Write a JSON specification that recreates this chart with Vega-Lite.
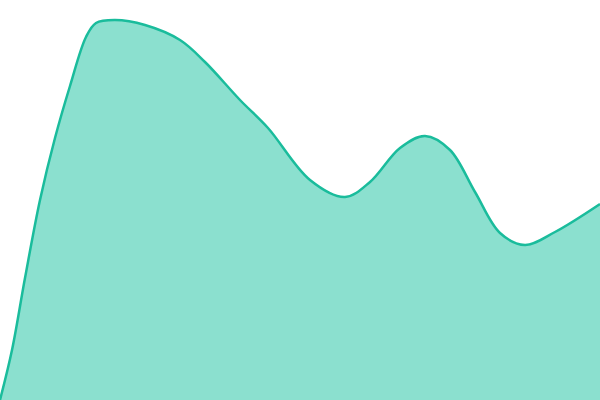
{
  "$schema": "https://vega.github.io/schema/vega-lite/v6.json",
  "width": 600,
  "height": 400,
  "padding": 0,
  "autosize": {"type": "none"},
  "config": {"view": {"stroke": null}},
  "data": {
    "values": [
      {"x": 0, "y": 0},
      {"x": 12, "y": 50},
      {"x": 25, "y": 122},
      {"x": 40, "y": 200},
      {"x": 55, "y": 262},
      {"x": 70, "y": 314},
      {"x": 86, "y": 363},
      {"x": 96, "y": 377},
      {"x": 115, "y": 380},
      {"x": 145, "y": 375},
      {"x": 180, "y": 360},
      {"x": 205, "y": 338},
      {"x": 240, "y": 300},
      {"x": 268, "y": 272},
      {"x": 310, "y": 220},
      {"x": 345, "y": 203},
      {"x": 370, "y": 218},
      {"x": 400, "y": 252},
      {"x": 425, "y": 264},
      {"x": 450, "y": 250},
      {"x": 475, "y": 208},
      {"x": 500, "y": 167},
      {"x": 525, "y": 155},
      {"x": 555, "y": 168},
      {"x": 600, "y": 196}
    ]
  },
  "mark": {
    "type": "area",
    "interpolate": "catmull-rom",
    "color": "#8be0cf",
    "opacity": 1,
    "line": {"color": "#1abc9c", "strokeWidth": 2.5}
  },
  "encoding": {
    "x": {"field": "x", "type": "quantitative", "scale": {"domain": [0, 600], "nice": false, "zero": false}, "axis": null},
    "y": {"field": "y", "type": "quantitative", "scale": {"domain": [0, 400], "nice": false}, "axis": null}
  }
}
